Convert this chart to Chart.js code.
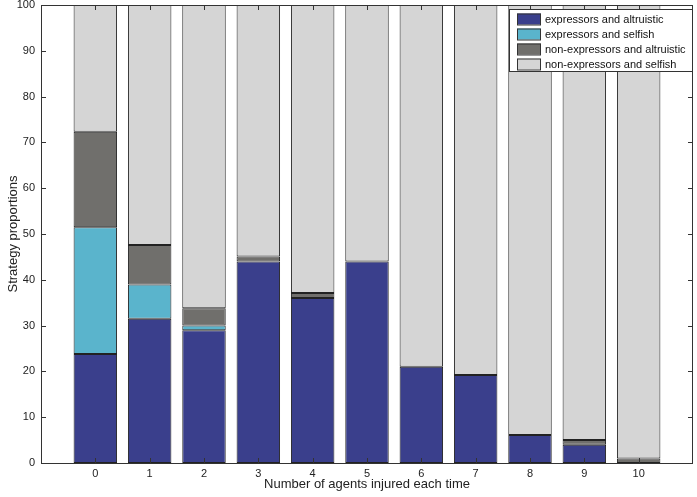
<!DOCTYPE html>
<html>
<head>
<meta charset="utf-8">
<script src="https://cdn.jsdelivr.net/npm/chart.js@4/dist/chart.umd.min.js"></script>
<style>
  html, body { margin: 0; padding: 0; background: #fff; }
  #wrap { width: 697px; height: 497px; position: relative; }
</style>
</head>
<body>
<div id="wrap"><canvas id="c" width="697" height="497"></canvas></div>
<script>
const categories = [0, 1, 2, 3, 4, 5, 6, 7, 8, 9, 10];
const expressorsAltruistic = [23.8, 31.5, 29.0, 44.0, 36.0, 44.0, 21.0, 19.2, 6.1, 4.0, 0];
const expressorsSelfish = [27.7, 7.5, 1.0, 0, 0, 0, 0, 0, 0, 0, 0];
const nonExpressorsAltruistic = [20.8, 8.6, 3.8, 1.1, 1.1, 0, 0, 0, 0, 1.0, 1.0];
const nonExpressorsSelfish = [27.7, 52.4, 66.2, 54.9, 62.9, 56.0, 79.0, 80.8, 93.9, 95.0, 99.0];
const seriesLabels = ['expressors and altruistic', 'expressors and selfish', 'non-expressors and altruistic', 'non-expressors and selfish'];
const yTicks = [0, 10, 20, 30, 40, 50, 60, 70, 80, 90, 100];
const xTitle = 'Number of agents injured each time';
const yTitle = 'Strategy proportions';

const colors = ['#3a3f8c', '#5ab4cc', '#706f6c', '#d5d5d5'];
const FONT = '"Liberation Sans", Arial, sans-serif';

function toXY(arr) { return categories.map((c, i) => ({ x: c, y: arr[i] })); }
const allSeries = [expressorsAltruistic, expressorsSelfish, nonExpressorsAltruistic, nonExpressorsSelfish];

const datasets = allSeries.map((s, i) => ({
  label: seriesLabels[i],
  data: toXY(s),
  backgroundColor: colors[i],
  borderColor: '#222',
  borderWidth: 1,
  borderSkipped: false,
  barPercentage: 0.8,
  categoryPercentage: 1.0
}));

const boxPlugin = {
  id: 'boxPlugin',
  afterDatasetsDraw(chart) {
    const ctx = chart.ctx;
    const a = chart.chartArea;
    const xs = chart.scales.x, ys = chart.scales.y;
    ctx.save();
    ctx.strokeStyle = '#333';
    ctx.lineWidth = 1;
    ctx.strokeRect(Math.round(a.left) + 0.5, Math.round(a.top) + 0.5, Math.round(a.right - a.left) - 1, Math.round(a.bottom - a.top));
    const tl = 5;
    ctx.beginPath();
    yTicks.forEach(v => {
      const y = Math.round(ys.getPixelForValue(v)) + 0.5;
      ctx.moveTo(a.left, y); ctx.lineTo(a.left + tl, y);
      ctx.moveTo(a.right, y); ctx.lineTo(a.right - tl, y);
    });
    categories.forEach(v => {
      const x = Math.round(xs.getPixelForValue(v)) + 0.5;
      ctx.moveTo(x, a.bottom); ctx.lineTo(x, a.bottom - tl);
      ctx.moveTo(x, a.top); ctx.lineTo(x, a.top + tl);
    });
    ctx.stroke();
    // legend
    const lx = 509.5, ly = 9.5, lw = 183, lh = 62;
    ctx.fillStyle = '#fff';
    ctx.fillRect(lx, ly, lw, lh);
    ctx.strokeStyle = '#333';
    ctx.strokeRect(lx, ly, lw, lh);
    ctx.font = '11px ' + FONT;
    ctx.textBaseline = 'middle';
    chart.data.datasets.forEach((ds, i) => {
      const cy = 19 + i * 15;
      ctx.fillStyle = ds.backgroundColor;
      ctx.fillRect(517, cy - 5.5, 24, 11);
      ctx.strokeStyle = '#333';
      ctx.strokeRect(517.5, cy - 5, 23, 11);
      ctx.fillStyle = '#111';
      ctx.fillText(ds.label, 545, cy + 0.5);
    });
    ctx.restore();
  }
};

new Chart(document.getElementById('c'), {
  type: 'bar',
  data: { datasets },
  options: {
    responsive: false,
    animation: false,
    layout: { padding: { top: 5, right: 4, left: 0, bottom: 0 } },
    plugins: { legend: { display: false }, tooltip: { enabled: false } },
    scales: {
      x: {
        type: 'linear',
        stacked: true,
        min: -1,
        max: 11,
        offset: false,
        grid: { display: false, drawTicks: false },
        border: { display: false },
        afterBuildTicks(scale) { scale.ticks = categories.map(v => ({ value: v })); },
        ticks: {
          autoSkip: false,
          padding: 4,
          color: '#222',
          font: { family: FONT, size: 11 },
          callback: (v) => String(v)
        },
        title: {
          display: true,
          text: xTitle,
          color: '#222',
          font: { family: FONT, size: 13 },
          padding: { top: 0, bottom: 5 }
        },
        afterFit(scale) { scale.height = 34; scale.paddingLeft = 0; scale.paddingRight = 0; }
      },
      y: {
        stacked: true,
        min: 0,
        max: 100,
        grid: { display: false, drawTicks: false },
        border: { display: false },
        afterBuildTicks(scale) { scale.ticks = yTicks.map(v => ({ value: v })); },
        ticks: {
          padding: 6,
          color: '#222',
          font: { family: FONT, size: 11 }
        },
        title: {
          display: true,
          text: yTitle,
          color: '#222',
          font: { family: FONT, size: 13 },
          padding: { top: 6, bottom: 0 }
        },
        afterFit(scale) { scale.width = 41; scale.paddingTop = 0; scale.paddingBottom = 0; }
      }
    }
  },
  plugins: [boxPlugin]
});
</script>
</body>
</html>
